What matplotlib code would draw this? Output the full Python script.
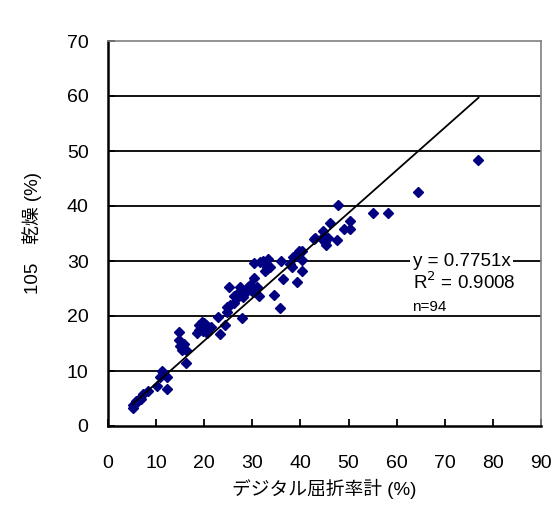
import numpy as np
import matplotlib
matplotlib.use("Agg")
import matplotlib.pyplot as plt

plt.rcParams['font.family'] = ['Liberation Sans', 'Noto Sans CJK JP', 'DejaVu Sans']

# digital refractometer (%) vs 105 drying (%)
refract = [77.0, 64.5, 47.9, 55.0, 58.3, 46.2, 50.4, 49.1, 50.4, 44.6,
           42.8, 47.5, 44.7, 45.7, 45.3, 39.6, 40.4, 38.7, 40.4, 35.9,
           38.2, 40.4, 36.3, 39.2, 34.6, 35.8, 30.4, 32.3, 33.3, 33.0,
           32.6, 33.6, 30.4, 25.2, 27.4, 29.2, 30.9, 27.1, 28.5, 26.8,
           28.0, 31.3, 26.1, 25.4, 24.7, 27.9, 22.9, 24.3, 23.3, 19.5,
           18.9, 19.3, 20.4, 20.9, 18.4, 19.8, 14.8, 14.8, 15.7, 15.3,
           16.3, 16.3, 11.2, 10.8, 12.2, 10.1, 12.2, 8.4, 7.3, 6.3,
           5.9, 5.3, 5.1, 29.5, 30.2, 31.6, 44.8, 45.2, 38.5, 20.0,
           19.0, 20.5, 15.0, 5.6, 6.8, 26.2, 24.7, 33.0, 43.0, 37.8,
           21.5, 19.5, 29.8, 11.5]
drying = [48.4, 42.6, 40.1, 38.7, 38.7, 37.0, 37.3, 35.8, 35.9, 35.5,
          34.0, 33.9, 33.9, 34.1, 33.0, 31.8, 31.8, 30.7, 30.2, 30.0,
          29.0, 28.1, 26.7, 26.2, 23.9, 21.4, 29.6, 30.0, 30.3, 29.0,
          28.2, 28.9, 27.0, 25.2, 25.2, 25.2, 25.3, 24.1, 24.1, 23.2,
          23.5, 23.6, 22.3, 22.0, 20.8, 19.7, 19.8, 18.4, 16.7, 19.0,
          18.4, 17.9, 18.4, 17.8, 16.9, 17.2, 17.1, 15.6, 15.0, 13.8,
          13.8, 11.4, 10.0, 9.0, 8.9, 7.3, 6.7, 6.4, 5.8, 4.7,
          4.6, 3.8, 3.2, 25.6, 24.4, 29.9, 34.5, 33.5, 30.8, 18.8,
          17.5, 17.0, 14.5, 4.0, 5.0, 23.7, 21.7, 28.6, 34.2, 29.5,
          18.0, 18.2, 24.8, 9.5]
slope = 0.7751
x_ticks = list(range(0, 91, 10))
y_ticks = list(range(0, 71, 10))

fig = plt.figure(figsize=(5.53, 5.07), dpi=100)
ax = fig.add_axes([108 / 553, 1 - 426 / 507, 433 / 553, 385 / 507])

for yv in y_ticks[1:-1]:
    ax.axhline(yv, color="black", lw=1.3, zorder=1)

ax.plot(refract, drying, "D", ms=5.5, color="#000080", mec="#000080", zorder=3)

xs = np.array([min(refract), max(refract)])
ax.plot(xs, slope * xs, color="black", lw=1.3, zorder=4)

ax.set_xlim(0, 90)
ax.set_ylim(0, 70)
ax.set_xticks(x_ticks)
ax.set_yticks(y_ticks)
ax.tick_params(axis="both", direction="in", length=5, width=1.3, labelsize=14)
ax.tick_params(axis="x", pad=21)
ax.tick_params(axis="y", pad=14)
for s in ("left", "bottom"):
    ax.spines[s].set_linewidth(1.8)
for s in ("top", "right"):
    ax.spines[s].set_color("#808080")
    ax.spines[s].set_linewidth(1.2)

ax.text(63.3, 30.0, "y = 0.7751x", fontsize=13.5, ha="left", va="center",
        bbox=dict(facecolor="white", edgecolor="none", pad=2), zorder=5)
ax.text(63.3, 26.2, "R$^2$ = 0.9008", fontsize=13.5, ha="left", va="center", zorder=5)
ax.text(63.3, 21.6, "n=94", fontsize=11, ha="left", va="center", zorder=5)

ax.set_xlabel("デジタル屈折率計 (%)", fontsize=13.5, labelpad=5)
ax.set_ylabel("105　乾燥 (%)", fontsize=13.5, labelpad=18)

fig.savefig("out.png", dpi=100)
